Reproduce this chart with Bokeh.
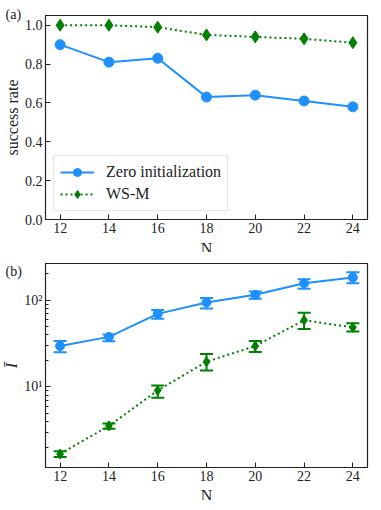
from bokeh.plotting import figure
from bokeh.layouts import column
from bokeh.models import (FixedTicker, NumeralTickFormatter, Range1d, Label,
                          Whisker, TeeHead, ColumnDataSource, Legend)
from bokeh.embed import file_html
from bokeh.resources import INLINE

# ---------------- data ----------------
N = [12, 14, 16, 18, 20, 22, 24]
zero_success = [0.90, 0.81, 0.83, 0.63, 0.64, 0.61, 0.58]
wsm_success = [1.00, 1.00, 0.99, 0.95, 0.94, 0.93, 0.91]

zero_I = [29.6, 37.7, 69.4, 94.0, 115.0, 156.0, 182.0]
zero_I_lo = [25.1, 33.5, 61.0, 80.3, 103.5, 135.0, 156.0]
zero_I_hi = [33.7, 40.2, 77.0, 106.0, 126.0, 174.0, 209.0]
wsm_I = [1.69, 3.56, 9.1, 19.5, 29.6, 58.7, 48.5]
wsm_I_lo = [1.56, 3.30, 7.5, 15.5, 25.3, 46.5, 43.4]
wsm_I_hi = [1.82, 3.80, 10.4, 23.9, 33.7, 71.3, 54.0]

x_ticks = [12, 14, 16, 18, 20, 22, 24]
rate_ticks = [0.0, 0.2, 0.4, 0.6, 0.8, 1.0]
log_major = [10, 100]
log_minor = [2, 3, 4, 5, 6, 7, 8, 9, 20, 30, 40, 50, 60, 70, 80, 90, 200]

X_LO, X_HI = 11.4, 24.6
A_LO, A_HI = 0.0, 1.05
B_LO, B_HI = 1.18, 264.0

BLUE = "#1E90FF"
GREEN = "#008000"
FONT = "Liberation Serif"
TICK_FS = "14px"
LABEL_FS = "16px"
INK = "#222222"


def style(p):
    p.toolbar_location = None
    p.grid.visible = False
    p.outline_line_color = INK
    p.outline_line_width = 1.2
    p.background_fill_color = "white"
    for ax in (p.xaxis[0], p.yaxis[0]):
        ax.major_tick_in = 5
        ax.major_tick_out = 0
        ax.minor_tick_in = 3
        ax.minor_tick_out = 0
        ax.axis_line_color = INK
        ax.major_tick_line_color = INK
        ax.minor_tick_line_color = INK
        ax.major_label_text_font = FONT
        ax.major_label_text_font_size = TICK_FS
        ax.major_label_text_color = INK
        ax.axis_label_text_font = FONT
        ax.axis_label_text_font_size = LABEL_FS
        ax.axis_label_text_font_style = "normal"
        ax.axis_label_text_color = INK
        ax.major_label_standoff = 3
        ax.axis_label_standoff = 1
    p.xaxis[0].ticker = FixedTicker(ticks=x_ticks, minor_ticks=[])


def outer_label(p, side, x, y, txt, xoff, yoff, align="left", size="14px"):
    # label drawn in a side panel so that it is not clipped by the frame
    p.add_layout(Label(x=x, y=y, x_offset=xoff, y_offset=yoff, text=txt,
                       text_font=FONT, text_font_size=size,
                       text_baseline="top", text_align=align,
                       text_color=INK), side)


# ---------------- panel (a) ----------------
pa = figure(frame_width=322, frame_height=204, output_backend="svg",
            toolbar_location=None,
            x_range=Range1d(X_LO, X_HI), y_range=Range1d(A_LO, A_HI),
            min_border_left=41, min_border_right=2, min_border_top=7,
            min_border_bottom=20)
style(pa)
pa.border_fill_color = "white"
pa.yaxis[0].ticker = FixedTicker(ticks=rate_ticks, minor_ticks=[])
pa.yaxis[0].formatter = NumeralTickFormatter(format="0.0")
pa.yaxis[0].axis_label = "success rate"

l1 = pa.line(N, zero_success, line_color=BLUE, line_width=2)
m1 = pa.scatter(N, zero_success, marker="circle", size=10, fill_color=BLUE,
                line_color=BLUE)
l2 = pa.line(N, wsm_success, line_color=GREEN, line_width=2, line_dash="2 3")
m2 = pa.scatter(N, wsm_success, marker="diamond", size=12, fill_color=GREEN,
                line_color=GREEN)

legend = Legend(items=[("Zero initialization", [l1, m1]), ("WS-M", [l2, m2])],
                location="bottom_left")
legend.margin = 8
legend.padding = 6
legend.spacing = 2
legend.glyph_width = 34
legend.glyph_height = 20
legend.label_height = 20
legend.label_standoff = 12
legend.label_text_font = FONT
legend.label_text_font_size = "16px"
legend.label_text_color = INK
legend.border_line_color = "#cccccc"
legend.border_line_width = 1
legend.background_fill_alpha = 0.85
pa.add_layout(legend, "center")

outer_label(pa, "above", X_LO, A_HI, "(a)", -40, 9)
outer_label(pa, "below", 18, A_LO, "N", 0, -20, align="center", size=LABEL_FS)

# ---------------- panel (b) ----------------
pb = figure(frame_width=322, frame_height=204, output_backend="svg",
            toolbar_location=None,
            x_range=Range1d(X_LO, X_HI), y_range=Range1d(B_LO, B_HI),
            y_axis_type="log",
            min_border_left=41, min_border_right=2, min_border_top=7,
            min_border_bottom=20)
style(pb)
pb.border_fill_alpha = 0.0
pb.margin = (-4, 0, -2, 0)
pb.yaxis[0].ticker = FixedTicker(ticks=log_major, minor_ticks=log_minor)
pb.yaxis[0].major_label_overrides = {10: "10¹", 100: "10²"}
pb.yaxis[0].axis_label = "Ī"
pb.yaxis[0].axis_label_text_font_style = "italic"

src_z = ColumnDataSource(dict(x=N, y=zero_I, lo=zero_I_lo, hi=zero_I_hi))
src_w = ColumnDataSource(dict(x=N, y=wsm_I, lo=wsm_I_lo, hi=wsm_I_hi))

pb.line("x", "y", source=src_z, line_color=BLUE, line_width=2)
pb.add_layout(Whisker(source=src_z, base="x", lower="lo", upper="hi",
                      line_color=BLUE, line_width=2,
                      upper_head=TeeHead(size=13, line_color=BLUE, line_width=2),
                      lower_head=TeeHead(size=13, line_color=BLUE, line_width=2)))
pb.scatter("x", "y", source=src_z, marker="circle", size=9, fill_color=BLUE,
           line_color=BLUE)

pb.line("x", "y", source=src_w, line_color=GREEN, line_width=2, line_dash="2 3")
pb.add_layout(Whisker(source=src_w, base="x", lower="lo", upper="hi",
                      line_color=GREEN, line_width=2,
                      upper_head=TeeHead(size=13, line_color=GREEN, line_width=2),
                      lower_head=TeeHead(size=13, line_color=GREEN, line_width=2)))
pb.scatter("x", "y", source=src_w, marker="diamond", size=10, fill_color=GREEN,
           line_color=GREEN)

outer_label(pb, "above", X_LO, B_HI, "(b)", -40, 0)
outer_label(pb, "below", 18, B_LO, "N", 0, -19, align="center", size=LABEL_FS)

layout = column(pa, pb, spacing=0)

open("out.html", "w").write(file_html(layout, INLINE))
